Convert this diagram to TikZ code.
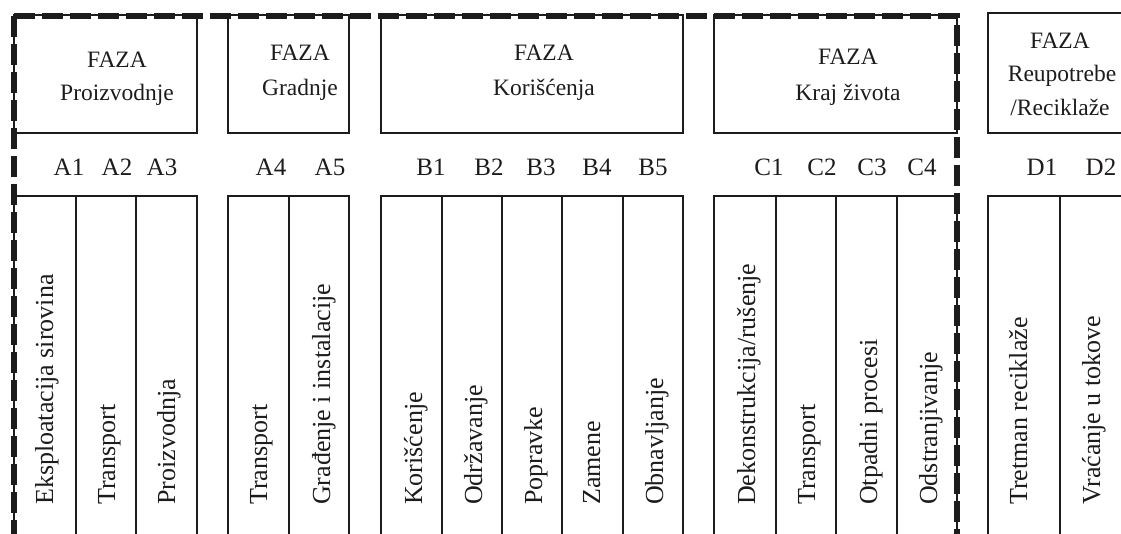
\documentclass[tikz,border=0pt]{standalone}
\usepackage{fontspec}
\setmainfont{Liberation Serif}
\definecolor{ink}{RGB}{30,27,28}
\begin{document}
\begin{tikzpicture}[x=1pt,y=-1pt,
  box/.style={draw=ink,line width=1.6pt},
  frame/.style={draw=ink,line width=6pt,dash pattern=on 21pt off 7pt},
  lbl/.style={anchor=base,inner sep=0,text=ink,font=\fontsize{23.5}{28}\selectfont},
  code/.style={anchor=base,inner sep=0,text=ink,font=\fontsize{25}{30}\selectfont},
  vlab/.style={anchor=base west,rotate=90,inner sep=0,text=ink,font=\fontsize{26}{30}\selectfont}]
\useasboundingbox (0,0) rectangle (1121,533);
\clip (0,0) rectangle (1121,533);
% phase boxes
\draw[box] (14,15) rectangle (197,133);
\draw[box] (228,15) rectangle (349,133);
\draw[box] (381,15) rectangle (683,133);
\draw[box] (714,15) rectangle (957,133);
\draw[box] (988,13) rectangle (1140,133);
% module columns
\draw[box] (14,196) rectangle (197,560);
\foreach \x in {76,136} \draw[box] (\x,196) -- (\x,560);
\draw[box] (228,196) rectangle (349,560);
\draw[box] (289,196) -- (289,560);
\draw[box] (381,196) rectangle (683,560);
\foreach \x in {442,502,562,623} \draw[box] (\x,196) -- (\x,560);
\draw[box] (714,196) rectangle (957,560);
\foreach \x in {776,836,897} \draw[box] (\x,196) -- (\x,560);
\draw[box] (988,196) rectangle (1132,560);
\draw[box] (1060,196) -- (1060,560);
% dashed system boundary
\draw[frame] (14,15.5) -- (957,15.5) -- (957,560);
\draw[frame] (14,15.5) -- (14,560);
% phase labels
\node[lbl] (fa) at (117,67) {FAZA};
\node[lbl] (fa2) at (117,100) {Proizvodnje};
\node[lbl] (fg) at (300,60) {FAZA};
\node[lbl] (fg2) at (300,95) {Gradnje};
\node[lbl] (fk) at (544,60) {FAZA};
\node[lbl] (fk2) at (544,95) {Korišćenja};
\node[lbl] (fz) at (848,64) {FAZA};
\node[lbl] (fz2) at (848,100) {Kraj života};
\node[lbl] (fr) at (1060,48) {FAZA};
\node[lbl] (fr2) at (1062,81) {Reupotrebe};
\node[lbl] (fr3) at (1060,115) {/Reciklaže};
% module codes
\node[code] (a1) at (69,175) {A1};
\node[code] (a2) at (117,175) {A2};
\node[code] (a3) at (162,175) {A3};
\node[code] (a4) at (271,175) {A4};
\node[code] (a5) at (330,175) {A5};
\node[code] (b1) at (431,175) {B1};
\node[code] (b2) at (489,175) {B2};
\node[code] (b3) at (541,175) {B3};
\node[code] (b4) at (597,175) {B4};
\node[code] (b5) at (653,175) {B5};
\node[code] (c1) at (769,175) {C1};
\node[code] (c2) at (822,175) {C2};
\node[code] (c3) at (872,175) {C3};
\node[code] (c4) at (922,175) {C4};
\node[code] (d1) at (1042,175) {D1};
\node[code] (d2) at (1101,175) {D2};
% module names
\node[vlab] (m1) at (53,505) {Eksploatacija sirovina};
\node[vlab] (m2) at (115,505) {Transport};
\node[vlab] (m3) at (175,505) {Proizvodnja};
\node[vlab] (m4) at (267,505) {Transport};
\node[vlab] (m5) at (330,505) {Građenje i instalacije};
\node[vlab] (m6) at (422,505) {Korišćenje};
\node[vlab] (m7) at (482,505) {Održavanje};
\node[vlab] (m8) at (542,505) {Popravke};
\node[vlab] (m9) at (600,505) {Zamene};
\node[vlab] (m10) at (663,505) {Obnavljanje};
\node[vlab] (m11) at (755,505) {Dekonstrukcija/rušenje};
\node[vlab] (m12) at (815,505) {Transport};
\node[vlab] (m13) at (877,505) {Otpadni procesi};
\node[vlab] (m14) at (937,505) {Odstranjivanje};
\node[vlab] (m15) at (1027,505) {Tretman reciklaže};
\node[vlab] (m16) at (1100,505) {Vraćanje u tokove};
\end{tikzpicture}
\end{document}
